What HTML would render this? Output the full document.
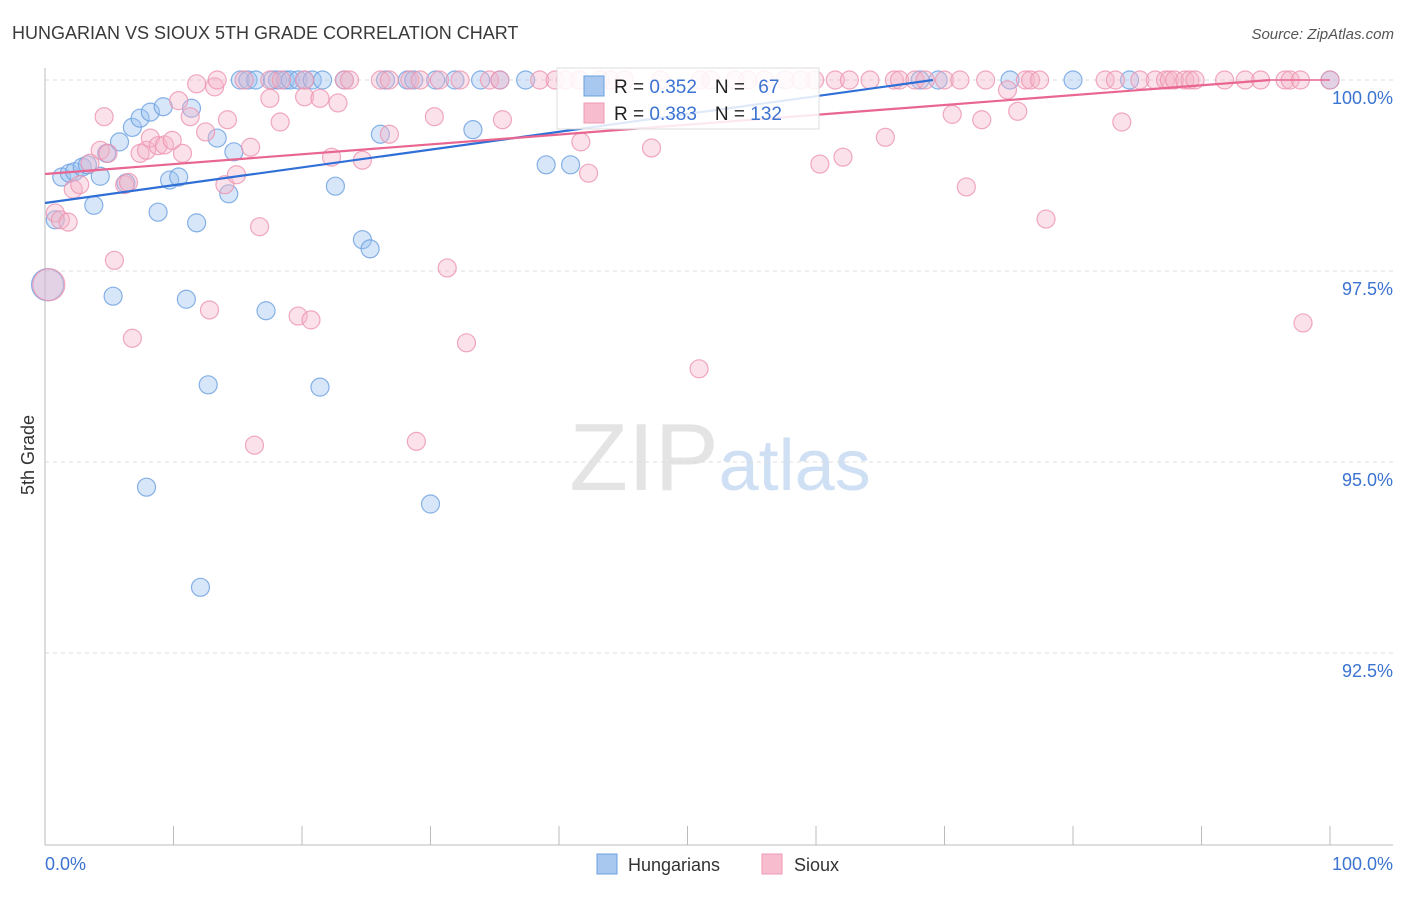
<!DOCTYPE html>
<html><head><meta charset="utf-8"><style>
body{margin:0;background:#fff;font-family:"Liberation Sans",sans-serif;}
svg text{font-family:"Liberation Sans",sans-serif;}
</style></head><body>
<svg id="chart" width="1406" height="892" viewBox="0 0 1406 892" xmlns="http://www.w3.org/2000/svg">
<text x="12" y="39" font-size="18" fill="#3a3a3a">HUNGARIAN VS SIOUX 5TH GRADE CORRELATION CHART</text>
<text x="1394" y="39" font-size="15" fill="#555" text-anchor="end" font-style="italic">Source: ZipAtlas.com</text>
<text x="720" y="490" font-size="96" text-anchor="middle" fill="#e4e4e4" font-family="Liberation Serif">ZIP<tspan fill="#cfe0f4" font-family="Liberation Sans" font-size="72">atlas</tspan></text>
<g id="grid"></g>
<g id="axes"></g>
<g id="blue"></g>
<g id="pink"></g>
<g id="trends"></g>
<text transform="translate(34,455) rotate(-90)" font-size="18" fill="#333" text-anchor="middle">5th Grade</text>
<text x="45" y="870" font-size="18" fill="#3b73d1">0.0%</text>
<text x="1393" y="870" font-size="18" fill="#3b73d1" text-anchor="end">100.0%</text>
<g>
<rect x="557" y="68" width="262" height="61" fill="#fff" fill-opacity="0.85" stroke="#ddd"/>
<rect x="584" y="76" width="20" height="20" fill="#a8c8f0" stroke="#6a9fe0"/>
<rect x="584" y="103" width="20" height="20" fill="#f7bccd" stroke="#ef9ab6"/>
<text x="614" y="93" font-size="19" fill="#222">R = <tspan fill="#3b73d1">0.352</tspan><tspan dx="18">N = </tspan><tspan fill="#3b73d1" dx="8">67</tspan></text>
<text x="614" y="120" font-size="19" fill="#222">R = <tspan fill="#3b73d1">0.383</tspan><tspan dx="18">N = </tspan><tspan fill="#3b73d1">132</tspan></text>
</g>
<g>
<rect x="597" y="854" width="20" height="20" fill="#a8c8f0" stroke="#6a9fe0"/>
<text x="628" y="871" font-size="18" fill="#333">Hungarians</text>
<rect x="762" y="854" width="20" height="20" fill="#f7bccd" stroke="#ef9ab6"/>
<text x="794" y="871" font-size="18" fill="#333">Sioux</text>
</g>
</svg>
<script>
const yTicks=[100,97.5,95,92.5];
const yTickLabels=["100.0%","97.5%","95.0%","92.5%"];
const xTicks=[0,10,20,30,40,50,60,70,80,90,100];
const blueX=[0.2,0.8,1.3,1.9,2.3,2.9,3.3,3.8,4.3,4.8,5.3,5.8,6.3,6.8,7.4,7.9,8.2,8.8,9.2,9.7,10.4,11.0,11.4,11.8,12.1,12.7,13.4,14.3,14.7,17.2,21.4,22.6,24.7,25.3,26.1,30.0,33.3,39.0,40.9,15.2,15.8,16.4,17.7,18.1,18.7,19.1,19.7,20.2,20.8,21.6,23.3,26.5,28.2,28.7,30.4,31.9,33.9,35.4,37.4,68.1,69.5,75.1,80.0,84.4,100];
const blueY=[97.32,98.17,98.73,98.78,98.80,98.86,98.89,98.36,98.74,99.04,97.17,99.19,98.65,99.38,99.50,94.67,99.58,98.27,99.65,98.69,98.73,97.13,99.63,98.13,93.36,96.01,99.24,98.51,99.06,96.98,95.98,98.61,97.91,97.79,99.29,94.45,99.35,98.89,98.89,100,100,100,100,100,100,100,100,100,100,100,100,100,100,100,100,100,100,100,100,100,100,100,100,100,100];
const pinkX=[0.8,1.2,1.8,2.2,2.7,3.5,4.3,4.6,4.9,5.4,6.2,6.5,6.8,7.4,7.9,8.2,8.8,9.3,9.9,10.4,10.7,11.3,11.8,12.5,12.8,13.2,14.0,14.2,14.9,16.0,16.3,16.7,17.5,18.3,19.7,20.2,20.7,21.4,22.3,22.8,24.7,26.8,28.9,30.3,31.3,32.8,35.6,41.7,42.3,47.2,50.9,60.3,62.1,65.4,70.6,71.7,72.9,74.9,75.7,77.9,83.8,97.9,0.3,
13.4,15.5,17.5,18.4,20.2,23.3,23.7,26.1,26.8,28.4,29.2,30.7,32.3,34.6,35.4,38.5,39.7,40.5,41.6,43.2,44.0,45.1,47.9,51.0,51.8,53.7,54.7,56.0,57.6,58.8,59.9,61.5,62.6,64.2,66.1,66.5,67.7,68.5,70.0,71.2,73.2,76.3,76.7,77.4,82.5,83.3,85.2,86.4,87.2,87.5,87.9,88.7,89.1,89.5,91.8,93.4,94.6,96.5,96.9,97.7,100];
const pinkY=[98.26,98.17,98.14,98.57,98.63,98.91,99.08,99.52,99.04,97.64,98.63,98.66,96.62,99.04,99.08,99.24,99.14,99.15,99.21,99.73,99.04,99.52,99.95,99.32,96.99,99.91,98.63,99.48,98.76,99.12,95.22,98.08,99.76,99.45,96.91,99.78,96.86,99.76,98.99,99.70,98.95,99.29,95.27,99.52,97.54,96.56,99.48,99.19,98.78,99.11,96.22,98.90,98.99,99.25,99.55,98.60,99.48,99.87,99.59,98.18,99.45,96.82,97.32,
100,100,100,100,100,100,100,100,100,100,100,100,100,100,100,100,100,100,100,100,100,100,100,100,100,100,100,100,100,100,100,100,100,100,100,100,100,100,100,100,100,100,100,100,100,100,100,100,100,100,100,100,100,100,100,100,100,100,100,100,100];
const blueTrend=[98.39,0.0233];
const pinkTrend=[98.77,0.0129];
const NS="http://www.w3.org/2000/svg";
const L=45,R=1330,T=80;
function sx(v){return L+(R-L)*v/100;}
function sy(v){return T+(100-v)*76.4;}
function mk(tag,attrs,parent){const e=document.createElementNS(NS,tag);for(const k in attrs)e.setAttribute(k,attrs[k]);parent.appendChild(e);return e;}
const grid=document.getElementById('grid'),axes=document.getElementById('axes');
yTicks.forEach((t,i)=>{
 const g=mk('line',{x1:L,x2:1393,y1:sy(t),y2:sy(t),stroke:'#ddd','stroke-dasharray':'4,4'},grid);
 
 
 const tx=mk('text',{x:1393,y:sy(t)+24,'font-size':18,fill:'#3b73d1','text-anchor':'end'},axes);
 tx.textContent=yTickLabels[i];
 
 
});
const xa=mk('line',{x1:L,x2:1393,y1:845,y2:845,stroke:'#bbb'},axes);


const ya=mk('line',{x1:L,x2:L,y1:68,y2:845,stroke:'#bbb'},axes);


xTicks.forEach(t=>{
 const tk=mk('line',{x1:sx(t),x2:sx(t),y1:826,y2:845,stroke:'#bbb'},axes);
 
 
});
function dots(xs,ys,gid,fill,stroke,name){
 const g=document.getElementById(gid);
 xs.forEach((x,i)=>{
  const big=(x<0.5&&ys[i]<97.5);
  const c=mk('circle',{cx:sx(x),cy:sy(ys[i]),r:big?16:9,fill:fill,'fill-opacity':0.4,stroke:stroke,'stroke-opacity':0.8,'stroke-width':1.2},g);
  
  
 });
}
dots(blueX,blueY,'blue','#9cc2f0','#6a9fe0','hungarians-point');
dots(pinkX,pinkY,'pink','#f6b3c8','#ec94b0','sioux-point');
function trend(p,color,name){
 const g=document.getElementById('trends');
 const xe=Math.min(100,(100-p[0])/p[1]);
 const l=mk('line',{x1:sx(0),y1:sy(p[0]),x2:sx(xe),y2:sy(Math.min(100,p[0]+p[1]*xe)),stroke:color,'stroke-width':2.2},g);
 
 
 if(xe<100&&name==='sioux-trend-line'){
  const l2=mk('line',{x1:sx(xe),y1:sy(100),x2:sx(100),y2:sy(100),stroke:color,'stroke-width':1.5},g);
  
  
 }
}
trend(blueTrend,'#2f6fd6','hungarians-trend-line');
trend(pinkTrend,'#e8668f','sioux-trend-line');
</script>
</body></html>
